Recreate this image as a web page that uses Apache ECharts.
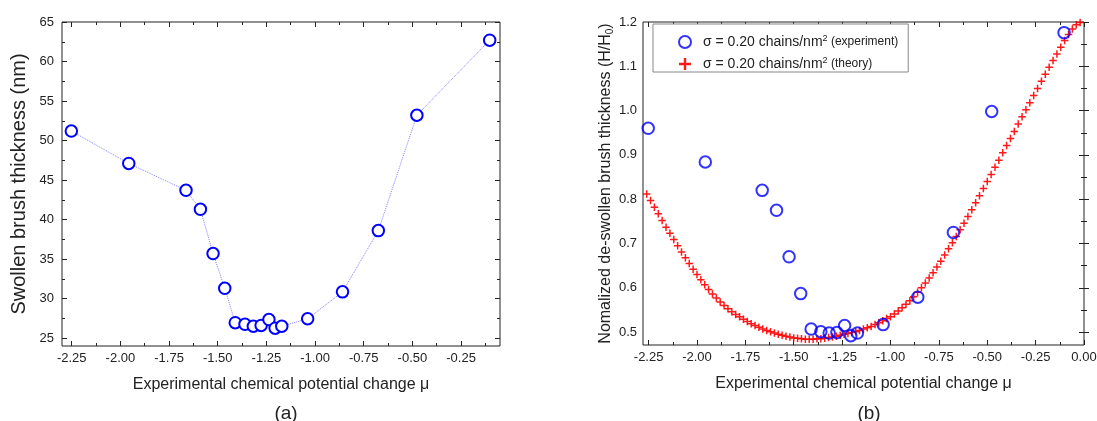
<!DOCTYPE html>
<html><head><meta charset="utf-8">
<script src="https://cdn.jsdelivr.net/npm/echarts@6/dist/echarts.min.js"></script>
<style>html,body{margin:0;padding:0;background:#fff}#c{width:1097px;height:421px}</style>
</head><body><div id="c"></div>
<script>
// ---------------- data ----------------
const muExp = [-2.252, -1.957, -1.663, -1.589, -1.524, -1.464, -1.410, -1.360, -1.317, -1.277, -1.237, -1.205, -1.171, -1.038, -0.859, -0.675, -0.477, -0.103];
const swollenThickness = [51.2, 47.1, 43.7, 41.3, 35.7, 31.3, 26.95, 26.75, 26.5, 26.6, 27.35, 26.25, 26.5, 27.45, 30.85, 38.6, 53.2, 62.7];
const normalizedExp = [0.960, 0.884, 0.820, 0.775, 0.670, 0.587, 0.507, 0.501, 0.498, 0.499, 0.515, 0.492, 0.498, 0.517, 0.579, 0.725, 0.998, 1.176];
const muTheory = [-2.28,-2.26,-2.24,-2.22,-2.20,-2.18,-2.16,-2.14,-2.12,-2.10,-2.08,-2.06,-2.04,-2.02,-2.00,-1.98,-1.96,-1.94,-1.92,-1.90,
  -1.88,-1.86,-1.84,-1.82,-1.80,-1.78,-1.76,-1.74,-1.72,-1.70,-1.68,-1.66,-1.64,-1.62,-1.60,-1.58,-1.56,-1.54,-1.52,-1.50,
  -1.48,-1.46,-1.44,-1.42,-1.40,-1.38,-1.36,-1.34,-1.32,-1.30,-1.28,-1.26,-1.24,-1.22,-1.20,-1.18,-1.16,-1.14,-1.12,-1.10,
  -1.08,-1.06,-1.04,-1.02,-1.00,-0.98,-0.96,-0.94,-0.92,-0.90,-0.88,-0.86,-0.84,-0.82,-0.80,-0.78,-0.76,-0.74,-0.72,-0.70,
  -0.68,-0.66,-0.64,-0.62,-0.60,-0.58,-0.56,-0.54,-0.52,-0.50,-0.48,-0.46,-0.44,-0.42,-0.40,-0.38,-0.36,-0.34,-0.32,-0.30,
  -0.28,-0.26,-0.24,-0.22,-0.20,-0.18,-0.16,-0.14,-0.12,-0.10,-0.08,-0.06,-0.04,-0.02];
const normalizedTheory = [0.828,0.812,0.797,0.782,0.767,0.752,0.737,0.723,0.709,0.695,0.681,0.668,0.655,0.642,0.630,0.618,0.607,0.596,0.586,0.577,
  0.568,0.560,0.553,0.546,0.540,0.535,0.529,0.524,0.519,0.515,0.511,0.507,0.504,0.501,0.498,0.495,0.493,0.491,0.489,0.487,
  0.486,0.485,0.484,0.484,0.484,0.485,0.485,0.486,0.488,0.489,0.491,0.493,0.495,0.497,0.499,0.501,0.504,0.507,0.510,0.513,
  0.517,0.521,0.526,0.531,0.535,0.541,0.548,0.555,0.563,0.571,0.580,0.590,0.600,0.611,0.622,0.634,0.647,0.660,0.674,0.688,
  0.702,0.716,0.731,0.746,0.761,0.776,0.792,0.808,0.824,0.840,0.856,0.872,0.888,0.905,0.921,0.937,0.953,0.970,0.986,1.002,
  1.018,1.034,1.050,1.066,1.082,1.098,1.113,1.128,1.143,1.158,1.172,1.184,1.194,1.199];
const xTicksMu = [-2.25,-2.00,-1.75,-1.50,-1.25,-1.00,-0.75,-0.50,-0.25,0.00];
const yTicksA = [25,30,35,40,45,50,55,60,65];
const yTicksB = [0.5,0.6,0.7,0.8,0.9,1.0,1.1,1.2];

// ---------------- helpers ----------------
const FONT = 'Arial, "Liberation Sans", sans-serif';
const TXT = '#222';
const PLUS = 'path://M-1,-0.2L-0.2,-0.2L-0.2,-1L0.2,-1L0.2,-0.2L1,-0.2L1,0.2L0.2,0.2L0.2,1L-0.2,1L-0.2,0.2L-1,0.2Z';

function inRange(arr, min, max){ return arr.filter(v => v >= min - 1e-9 && v <= max + 1e-9); }
function minorsOf(majors, step, min, max){
  const out = [];
  majors.forEach(v => { out.push(v - step/2); out.push(v + step/2); });
  return inRange([...new Set(out.map(v=>+v.toFixed(4)))], min, max);
}
function frameAxes(dim, grid, min, max, majors, minors, fmt, labelMargin, base){
  const sides = dim === 'x' ? ['bottom','top'] : ['left','right'];
  const mk = (pos, vals, len, withLabel) => Object.assign({
    type:'value', gridIndex:grid, position:pos, min:min, max:max, scale:true,
    axisLine:{show:false}, splitLine:{show:false},
    axisTick:{show:true, inside:true, length:len, customValues:vals, lineStyle:{color:'#222', width:1}},
    axisLabel: withLabel ? {show:true, customValues:vals, formatter:fmt, fontFamily:FONT, fontSize:13, color:TXT, margin:labelMargin}
                         : {show:false},
    minorTick:{show:false}
  }, withLabel ? base : {});
  return [
    mk(sides[0], majors, 5, true),
    mk(sides[0], minors, 3, false),
    mk(sides[1], majors, 5, false),
    mk(sides[1], minors, 3, false)
  ];
}

// ---------------- axes ----------------
const xMinA = -2.30, xMaxA = -0.05, yMinA = 24, yMaxA = 65;
const xMinB = -2.279, xMaxB = 0.0, yMinB = 0.471, yMaxB = 1.2;

const xMajA = inRange(xTicksMu, xMinA, xMaxA), xMajB = inRange(xTicksMu, xMinB, xMaxB);
const fmtX = v => v.toFixed(2);

const xNameStyle = {fontFamily:FONT, fontSize:16, color:TXT};
const xAxes = [
  ...frameAxes('x', 0, xMinA, xMaxA, xMajA, minorsOf(xMajA, 0.25, xMinA, xMaxA), fmtX, 6,
    {name:'Experimental chemical potential change μ', nameLocation:'middle', nameGap:31, nameTextStyle:xNameStyle}),
  ...frameAxes('x', 1, xMinB, xMaxB, xMajB, minorsOf(xMajB, 0.25, xMinB, xMaxB), fmtX, 6,
    {name:'Experimental chemical potential change μ', nameLocation:'middle', nameGap:31, nameTextStyle:xNameStyle})
];
const yAxes = [
  ...frameAxes('y', 0, yMinA, yMaxA, yTicksA, minorsOf(yTicksA, 5, yMinA, yMaxA), v => String(Math.round(v)), 8,
    {name:'Swollen brush thickness (nm)', nameLocation:'middle', nameGap:33, nameRotate:90,
     nameTextStyle:{fontFamily:FONT, fontSize:20, color:TXT}}),
  ...frameAxes('y', 1, yMinB, yMaxB, yTicksB, minorsOf(yTicksB, 0.1, yMinB, yMaxB), v => v.toFixed(1), 6,
    {name:'Nomalized de-swollen brush thickness (H/H{sub|0})', nameLocation:'middle', nameGap:28, nameRotate:90,
     nameTextStyle:{fontFamily:FONT, fontSize:16, color:TXT,
       rich:{sub:{fontFamily:FONT, fontSize:10, color:TXT, verticalAlign:'bottom', padding:[8,0,0,0]}}}})
];

const option = {
  backgroundColor:'#fff',
  animation:false,
  title:[
    {text:'(a)', left:281, top:399, textAlign:'center', textStyle:{fontFamily:FONT, fontSize:19, fontWeight:'normal', color:TXT}},
    {text:'(b)', left:864, top:399, textAlign:'center', textStyle:{fontFamily:FONT, fontSize:19, fontWeight:'normal', color:TXT}}
  ],
  grid:[
    {left:62, top:22, width:438, height:324, show:true, borderColor:'#222', borderWidth:1, backgroundColor:'transparent', outerBoundsMode:'none', containLabel:false},
    {left:643, top:22, width:441, height:323, show:true, borderColor:'#222', borderWidth:1, backgroundColor:'transparent', outerBoundsMode:'none', containLabel:false}
  ],
  xAxis:xAxes,
  yAxis:yAxes,
  legend:{
    orient:'vertical', left:653, top:24,
    padding:[10, 10, 1, 25], itemGap:7, itemWidth:12, itemHeight:12,
    backgroundColor:'#fff', borderColor:'#888', borderWidth:1, borderRadius:0,
    selectedMode:false,
    data:[
      {name:'exp', icon:'circle', itemStyle:{color:'rgba(0,0,0,0)', borderColor:'#0000ff', borderWidth:2}},
      {name:'theory', icon:PLUS, itemStyle:{color:'#ff0000', borderWidth:0}}
    ],
    formatter: n => n === 'exp' ? '{a|σ = 0.20 chains/nm}{s|2}{b| (experiment)}' : '{a|σ = 0.20 chains/nm}{s|2}{b| (theory)}',
    textStyle:{fontFamily:FONT, color:TXT, rich:{
      a:{fontFamily:FONT, fontSize:14, color:TXT, padding:[0,0,0,7], lineHeight:16},
      s:{fontFamily:FONT, fontSize:9, color:TXT, verticalAlign:'top', lineHeight:9},
      b:{fontFamily:FONT, fontSize:12, color:TXT, lineHeight:16}
    }}
  },
  series:[
    {
      name:'swollen', type:'line', xAxisIndex:0, yAxisIndex:0,
      data: muExp.map((x,i)=>[x, swollenThickness[i]]),
      symbol:'emptyCircle', symbolSize:11.5,
      itemStyle:{color:'#0000ff', borderColor:'#0000ff', borderWidth:2},
      lineStyle:{color:'#8080ff', width:1, type:'dotted'},
      z:3
    },
    {
      name:'theory', type:'scatter', xAxisIndex:4, yAxisIndex:4,
      data: muTheory.map((x,i)=>[x, normalizedTheory[i]]),
      symbol:PLUS, symbolSize:7.5,
      itemStyle:{color:'#ff0000', opacity:0.9},
      z:2
    },
    {
      name:'exp', type:'scatter', xAxisIndex:4, yAxisIndex:4,
      data: muExp.map((x,i)=>[x, normalizedExp[i]]),
      symbol:'circle', symbolSize:11.5,
      itemStyle:{color:'rgba(0,0,0,0)', borderColor:'#0000ff', borderWidth:2},
      z:3
    }
  ]
};
const chart = echarts.init(document.getElementById('c'), null, {renderer:'canvas'});
chart.setOption(option);
</script>
</body></html>
